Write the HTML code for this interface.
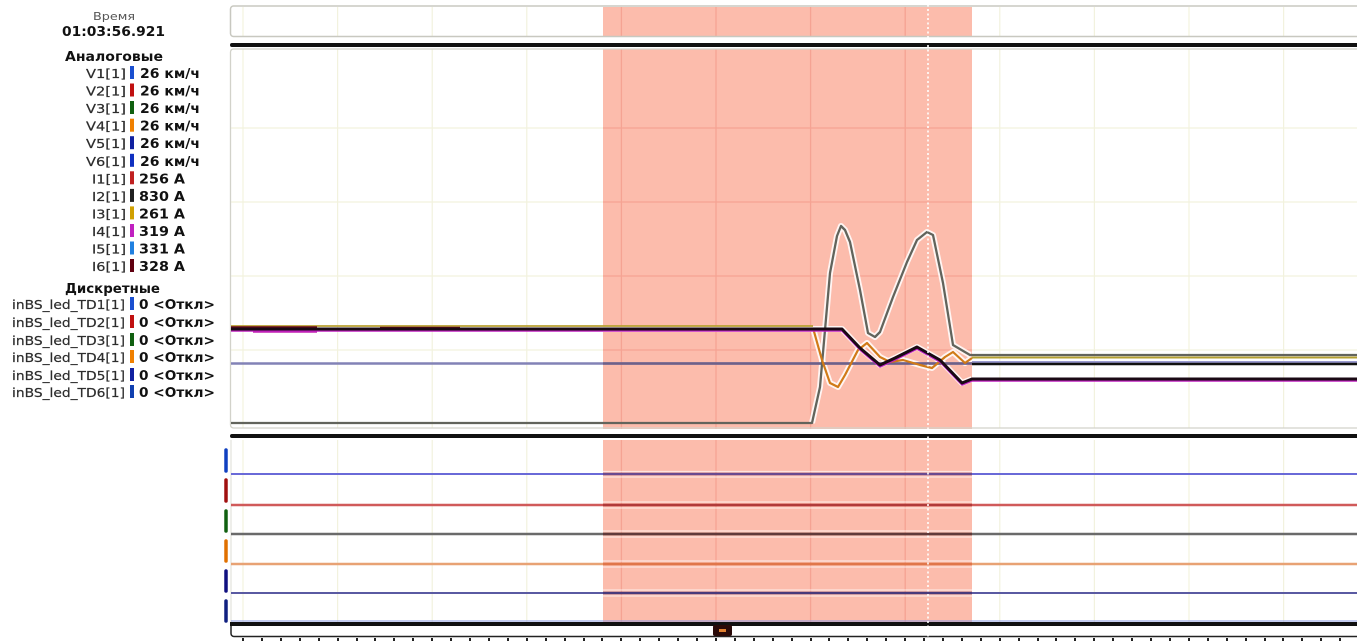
<!DOCTYPE html>
<html><head><meta charset="utf-8"><style>
html,body{margin:0;padding:0;background:#fff;}
svg{display:block;}
text{font-family:"DejaVu Sans","Liberation Sans",sans-serif;}
</style></head><body>
<svg width="1357" height="641" viewBox="0 0 1357 641" xmlns="http://www.w3.org/2000/svg">
<rect width="1357" height="641" fill="#fff"/>

<!-- Legend -->
<text x="93" y="20" font-size="11" fill="#555" textLength="42" lengthAdjust="spacingAndGlyphs">Время</text>
<text x="62" y="36" font-size="13" font-weight="bold" fill="#111" textLength="103" lengthAdjust="spacingAndGlyphs">01:03:56.921</text>
<text x="65" y="61" font-size="13" font-weight="bold" fill="#111" textLength="98" lengthAdjust="spacingAndGlyphs">Аналоговые</text>

<g font-size="12" fill="#2c2c2c" stroke="#2c2c2c" stroke-width="0.2">
<text x="86" y="78" textLength="40" lengthAdjust="spacingAndGlyphs">V1[1]</text>
<text x="86" y="95.5" textLength="40" lengthAdjust="spacingAndGlyphs">V2[1]</text>
<text x="86" y="113" textLength="40" lengthAdjust="spacingAndGlyphs">V3[1]</text>
<text x="86" y="130.7" textLength="40" lengthAdjust="spacingAndGlyphs">V4[1]</text>
<text x="86" y="148.2" textLength="40" lengthAdjust="spacingAndGlyphs">V5[1]</text>
<text x="86" y="165.8" textLength="40" lengthAdjust="spacingAndGlyphs">V6[1]</text>
<text x="92" y="183.3" textLength="34" lengthAdjust="spacingAndGlyphs">I1[1]</text>
<text x="92" y="200.9" textLength="34" lengthAdjust="spacingAndGlyphs">I2[1]</text>
<text x="92" y="218.4" textLength="34" lengthAdjust="spacingAndGlyphs">I3[1]</text>
<text x="92" y="236" textLength="34" lengthAdjust="spacingAndGlyphs">I4[1]</text>
<text x="92" y="253.5" textLength="34" lengthAdjust="spacingAndGlyphs">I5[1]</text>
<text x="92" y="271" textLength="34" lengthAdjust="spacingAndGlyphs">I6[1]</text>
</g>
<g>
<rect x="130" y="66" width="4" height="13" fill="#1a4fd0"/>
<rect x="130" y="83.5" width="4" height="13" fill="#c01010"/>
<rect x="130" y="101" width="4" height="13" fill="#106010"/>
<rect x="130" y="118.7" width="4" height="13" fill="#f08000"/>
<rect x="130" y="136.2" width="4" height="13" fill="#1020a0"/>
<rect x="130" y="153.8" width="4" height="13" fill="#1030c0"/>
<rect x="130" y="171.3" width="4" height="13" fill="#c02020"/>
<rect x="130" y="188.9" width="4" height="13" fill="#202020"/>
<rect x="130" y="206.4" width="4" height="13" fill="#d0a000"/>
<rect x="130" y="224" width="4" height="13" fill="#c020c0"/>
<rect x="130" y="241.5" width="4" height="13" fill="#2080e0"/>
<rect x="130" y="259" width="4" height="13" fill="#600010"/>
</g>
<g font-size="13" font-weight="bold" fill="#111">
<text x="140" y="78" textLength="60" lengthAdjust="spacingAndGlyphs">26 км/ч</text>
<text x="140" y="95.5" textLength="60" lengthAdjust="spacingAndGlyphs">26 км/ч</text>
<text x="140" y="113" textLength="60" lengthAdjust="spacingAndGlyphs">26 км/ч</text>
<text x="140" y="130.7" textLength="60" lengthAdjust="spacingAndGlyphs">26 км/ч</text>
<text x="140" y="148.2" textLength="60" lengthAdjust="spacingAndGlyphs">26 км/ч</text>
<text x="140" y="165.8" textLength="60" lengthAdjust="spacingAndGlyphs">26 км/ч</text>
<text x="139" y="183.3" textLength="46" lengthAdjust="spacingAndGlyphs">256 A</text>
<text x="139" y="200.9" textLength="46" lengthAdjust="spacingAndGlyphs">830 A</text>
<text x="139" y="218.4" textLength="46" lengthAdjust="spacingAndGlyphs">261 A</text>
<text x="139" y="236" textLength="46" lengthAdjust="spacingAndGlyphs">319 A</text>
<text x="139" y="253.5" textLength="46" lengthAdjust="spacingAndGlyphs">331 A</text>
<text x="139" y="271" textLength="46" lengthAdjust="spacingAndGlyphs">328 A</text>
</g>

<text x="65" y="293" font-size="13" font-weight="bold" fill="#111" textLength="95" lengthAdjust="spacingAndGlyphs">Дискретные</text>
<g font-size="12" fill="#2c2c2c" stroke="#2c2c2c" stroke-width="0.2">
<text x="12" y="309" textLength="113" lengthAdjust="spacingAndGlyphs">inBS_led_TD1[1]</text>
<text x="12" y="327" textLength="113" lengthAdjust="spacingAndGlyphs">inBS_led_TD2[1]</text>
<text x="12" y="345" textLength="113" lengthAdjust="spacingAndGlyphs">inBS_led_TD3[1]</text>
<text x="12" y="362" textLength="113" lengthAdjust="spacingAndGlyphs">inBS_led_TD4[1]</text>
<text x="12" y="380" textLength="113" lengthAdjust="spacingAndGlyphs">inBS_led_TD5[1]</text>
<text x="12" y="397" textLength="113" lengthAdjust="spacingAndGlyphs">inBS_led_TD6[1]</text>
</g>
<g>
<rect x="130" y="297" width="4" height="13" fill="#1a4fd0"/>
<rect x="130" y="315" width="4" height="13" fill="#c01010"/>
<rect x="130" y="333" width="4" height="13" fill="#106010"/>
<rect x="130" y="350" width="4" height="13" fill="#f08000"/>
<rect x="130" y="368" width="4" height="13" fill="#1020a0"/>
<rect x="130" y="385" width="4" height="13" fill="#1040b0"/>
</g>
<g font-size="13" font-weight="bold" fill="#111">
<text x="139" y="309" textLength="76" lengthAdjust="spacingAndGlyphs">0 &lt;Откл&gt;</text>
<text x="139" y="327" textLength="76" lengthAdjust="spacingAndGlyphs">0 &lt;Откл&gt;</text>
<text x="139" y="345" textLength="76" lengthAdjust="spacingAndGlyphs">0 &lt;Откл&gt;</text>
<text x="139" y="362" textLength="76" lengthAdjust="spacingAndGlyphs">0 &lt;Откл&gt;</text>
<text x="139" y="380" textLength="76" lengthAdjust="spacingAndGlyphs">0 &lt;Откл&gt;</text>
<text x="139" y="397" textLength="76" lengthAdjust="spacingAndGlyphs">0 &lt;Откл&gt;</text>
</g>

<!-- Red highlighted region -->
<g fill="#fcbcac">
<rect x="603" y="7" width="369" height="29"/>
<rect x="603" y="49" width="369" height="380"/>
<rect x="603" y="440" width="369" height="182"/>
</g>

<!-- Grid lines (outside red) -->
<g stroke="#f2f2de" stroke-width="1.2">
<path d="M243,7V36M337.6,7V36M432.2,7V36M526.8,7V36M999.8,7V36M1094.4,7V36M1189,7V36M1283.6,7V36"/>
<path d="M243,49V428M337.6,49V428M432.2,49V428M526.8,49V428M999.8,49V428M1094.4,49V428M1189,49V428M1283.6,49V428"/>
<path d="M243,440V622M337.6,440V622M432.2,440V622M526.8,440V622M999.8,440V622M1094.4,440V622M1189,440V622M1283.6,440V622"/>
<path d="M231,128H603M972,128H1357M231,202H603M972,202H1357M231,276H603M972,276H1357M231,350H603M972,350H1357"/>
</g>
<!-- Grid lines (inside red) -->
<g stroke="#f5a393" stroke-width="1.3">
<path d="M621.4,7V36M716,7V36M810.6,7V36M905.2,7V36"/>
<path d="M621.4,49V429M716,49V429M810.6,49V429M905.2,49V429"/>
<path d="M621.4,440V622M716,440V622M810.6,440V622M905.2,440V622"/>
<path d="M603,128H972M603,202H972M603,276H972M603,350H972"/>
</g>

<!-- Panel borders -->
<rect x="230.5" y="6" width="1140" height="30.5" rx="3" fill="none" stroke="#c8c8c0" stroke-width="1.5"/>
<rect x="230.5" y="49" width="1140" height="379" rx="3" fill="none" stroke="#d2d2ca" stroke-width="1.3"/>
<path d="M231,440V622" stroke="#dcdcd4" stroke-width="1"/>

<!-- Black separator lines -->
<rect x="230" y="43" width="1130" height="4" rx="2" fill="#111"/>
<rect x="230" y="434" width="1130" height="4" rx="2" fill="#111"/>

<!-- Analog traces: halos -->
<g fill="none" stroke="#fff" stroke-opacity="0.85" stroke-width="6" stroke-linejoin="round">
<path d="M603,329 H842 L860,348 L880,365 L895,358 L917,347 L940,360 L962,383 L972,379"/>
<path d="M812,423 L820,387 L830,273 L837,236 L841,226 L845,230 L850,242 L860,290 L868,333 L875,337 L880,332 L893,297 L907,262 L917,240 L927,232 L933,235 L943,283 L953,345 L970,355"/>
<path d="M813,328 L822,360 L830,383 L838,387 L845,375 L858,350 L867,343 L880,357 L890,362 L903,360 L920,365 L932,368 L945,357 L953,352 L965,363 L972,358"/>
</g>

<!-- Slate line -->
<path d="M231,363.5H972" stroke="#8282b6" stroke-width="2.5"/>
<path d="M603,363.5H972" stroke="#6e6088" stroke-width="2.5"/>
<path d="M972,363H1357" stroke="#9a9ad0" stroke-width="4"/>
<path d="M972,364H1357" stroke="#111" stroke-width="2.4"/>

<!-- Gray I2 -->
<path d="M231,423 L812,423 L820,387 L830,273 L837,236 L841,226 L845,230 L850,242 L860,290 L868,333 L875,337 L880,332 L893,297 L907,262 L917,240 L927,232 L933,235 L943,283 L953,345 L970,355 L1357,355" fill="none" stroke="#62645c" stroke-width="2.3" stroke-linejoin="round"/>

<!-- Orange -->
<path d="M813,328 L822,360 L830,383 L838,387 L845,375 L858,350 L867,343 L880,357 L890,362 L903,360 L920,365 L932,368 L945,357 L953,352 L965,363 L972,358" fill="none" stroke="#d07a18" stroke-width="2.2" stroke-linejoin="round"/>
<path d="M972,357.5H1357" stroke="#b4a032" stroke-width="2"/>

<!-- Bundle at 329 -->
<path d="M231,326H813" stroke="#b8a030" stroke-width="1.8"/>
<path d="M231,328.5H317" stroke="#6a0820" stroke-width="4.5"/>
<path d="M253,332H317" stroke="#c020b0" stroke-width="1.6"/>
<path d="M380,328.5H460" stroke="#6a0820" stroke-width="3.5"/>
<!-- Magenta / black -->
<path d="M231,331 H842 L860,350 L880,367 L895,360 L917,349 L940,362 L962,385 L972,381 L1357,381" fill="none" stroke="#c020c0" stroke-width="1.6" stroke-linejoin="round"/>
<path d="M231,329 H842 L860,348 L880,365 L895,358 L917,347 L940,360 L962,383 L972,379 L1357,379" fill="none" stroke="#1a0a14" stroke-width="3" stroke-linejoin="round"/>

<!-- Discrete traces -->
<path d="M231,474H1357" stroke="#6a6ad8" stroke-width="2"/>
<path d="M231,505H1357" stroke="#d05a5a" stroke-width="2.5"/>
<path d="M231,534H1357" stroke="#6a6a6a" stroke-width="2.5"/>
<path d="M231,564H1357" stroke="#e8a274" stroke-width="2.5"/>
<path d="M231,593H1357" stroke="#5a5aa2" stroke-width="2"/>
<path d="M231,621H1357" stroke="#8a98e0" stroke-width="1"/>
<!-- darker in red -->
<g stroke-width="2.5">
<path d="M603,474H972" stroke="#6a4a90"/>
<path d="M603,505H972" stroke="#b03a3a"/>
<path d="M603,534H972" stroke="#603a3a"/>
<path d="M603,564H972" stroke="#e0764a"/>
<path d="M603,593H972" stroke="#4a3a7a"/>
</g>
<!-- white halos in red (discrete) -->
<g stroke="#fff" stroke-opacity="0.6" stroke-width="1.2">
<path d="M603,471.5H972M603,477H972M603,502H972M603,508H972M603,531H972M603,537H972M603,561H972M603,567H972M603,590H972M603,596H972"/>
</g>

<!-- Left markers for discrete -->
<g stroke-width="3.5" stroke-linecap="round">
<path d="M226,450V471" stroke="#1040c0"/>
<path d="M226,480V501" stroke="#a01010"/>
<path d="M226,511V531" stroke="#106010"/>
<path d="M226,541V561" stroke="#e07000"/>
<path d="M226,571V591" stroke="#101080"/>
<path d="M226,601V621" stroke="#102080"/>
</g>

<!-- Bottom scroll box -->
<rect x="231" y="623.5" width="1135" height="13" rx="3" fill="#fff" stroke="#222" stroke-width="1.5"/>
<rect x="230" y="622" width="1130" height="4" fill="#111"/>
<rect x="713" y="625" width="19" height="11" rx="2" fill="#2a0a08"/>
<rect x="719" y="629" width="7" height="3" fill="#e08030"/>
<!-- ticks -->
<g fill="#222">
<rect x="242" y="638" width="2" height="3"/><rect x="261" y="638" width="2" height="3"/><rect x="280" y="638" width="2" height="3"/><rect x="299" y="638" width="2" height="3"/><rect x="318" y="638" width="2" height="3"/><rect x="337" y="638" width="2" height="3"/><rect x="356" y="638" width="2" height="3"/><rect x="374" y="638" width="2" height="3"/><rect x="393" y="638" width="2" height="3"/><rect x="412" y="638" width="2" height="3"/><rect x="431" y="638" width="2" height="3"/><rect x="450" y="638" width="2" height="3"/><rect x="469" y="638" width="2" height="3"/><rect x="488" y="638" width="2" height="3"/><rect x="507" y="638" width="2" height="3"/><rect x="526" y="638" width="2" height="3"/><rect x="545" y="638" width="2" height="3"/><rect x="564" y="638" width="2" height="3"/><rect x="583" y="638" width="2" height="3"/><rect x="601" y="638" width="2" height="3"/><rect x="620" y="638" width="2" height="3"/><rect x="639" y="638" width="2" height="3"/><rect x="658" y="638" width="2" height="3"/><rect x="677" y="638" width="2" height="3"/><rect x="696" y="638" width="2" height="3"/><rect x="715" y="638" width="2" height="3"/><rect x="734" y="638" width="2" height="3"/><rect x="753" y="638" width="2" height="3"/><rect x="772" y="638" width="2" height="3"/><rect x="791" y="638" width="2" height="3"/><rect x="810" y="638" width="2" height="3"/><rect x="828" y="638" width="2" height="3"/><rect x="847" y="638" width="2" height="3"/><rect x="866" y="638" width="2" height="3"/><rect x="885" y="638" width="2" height="3"/><rect x="904" y="638" width="2" height="3"/><rect x="923" y="638" width="2" height="3"/><rect x="942" y="638" width="2" height="3"/><rect x="961" y="638" width="2" height="3"/><rect x="980" y="638" width="2" height="3"/><rect x="999" y="638" width="2" height="3"/><rect x="1018" y="638" width="2" height="3"/><rect x="1037" y="638" width="2" height="3"/><rect x="1055" y="638" width="2" height="3"/><rect x="1074" y="638" width="2" height="3"/><rect x="1093" y="638" width="2" height="3"/><rect x="1112" y="638" width="2" height="3"/><rect x="1131" y="638" width="2" height="3"/><rect x="1150" y="638" width="2" height="3"/><rect x="1169" y="638" width="2" height="3"/><rect x="1188" y="638" width="2" height="3"/><rect x="1207" y="638" width="2" height="3"/><rect x="1226" y="638" width="2" height="3"/><rect x="1245" y="638" width="2" height="3"/><rect x="1264" y="638" width="2" height="3"/><rect x="1282" y="638" width="2" height="3"/><rect x="1301" y="638" width="2" height="3"/><rect x="1320" y="638" width="2" height="3"/><rect x="1339" y="638" width="2" height="3"/>
</g>

<!-- Cursor dotted line -->
<path d="M928,0V641" stroke="#fff" stroke-width="1.6" stroke-dasharray="2 2.5"/>
</svg>
</body></html>
